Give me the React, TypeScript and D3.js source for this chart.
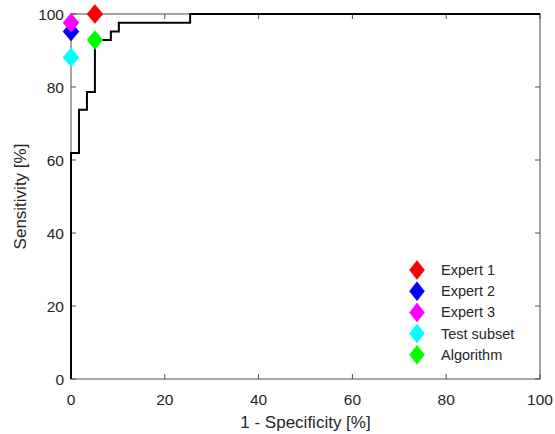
import React from "react";
import * as d3 from "d3";

// ROC curve vertices (step after)
const rocFpr = [0, 0, 1.7, 3.4, 5.1, 8.5, 10.2, 25.4, 100];
const rocTpr = [0, 61.9, 73.8, 78.6, 92.9, 95.2, 97.6, 100, 100];

// Operating points
const pointNames = ["Expert 1", "Expert 2", "Expert 3", "Test subset", "Algorithm"];
const pointFpr = [5.1, 0, 0, 0, 5.1];
const pointTpr = [100, 95.2, 97.6, 88.1, 92.9];
const pointColors = ["#ff0000", "#0000ff", "#ff00ff", "#00ffff", "#00ff00"];

const xTicks = [0, 20, 40, 60, 80, 100];
const yTicks = [0, 20, 40, 60, 80, 100];

const W = 555;
const H = 434;
const L = 71, R = 540, T = 14, B = 379;
const FONT = "'Liberation Sans', Arial, Helvetica, sans-serif";
const TXT = "#262626";
const AX = "#4d4d4d";

function diamond(cx: number, cy: number, w: number, h: number) {
  return `M${cx},${cy - h / 2}L${cx + w / 2},${cy}L${cx},${cy + h / 2}L${cx - w / 2},${cy}Z`;
}

export default function App() {
  const x = d3.scaleLinear().domain([0, 100]).range([L, R]);
  const y = d3.scaleLinear().domain([0, 100]).range([B, T]);
  const pts: [number, number][] = rocFpr.map((f, i) => [f, rocTpr[i]]);
  const line = d3
    .line<[number, number]>()
    .x((d) => x(d[0]))
    .y((d) => y(d[1]))
    .curve(d3.curveStepAfter);
  const tl = 5;
  const legendX = 417;
  const legendY0 = 270;
  const legendDy = 21.2;

  return (
    <svg
      width={W}
      height={H}
      style={{ position: "absolute", left: 0, top: 0, background: "#fff" }}
      fontFamily={FONT}
    >
      <rect x={0} y={0} width={W} height={H} fill="#fff" />
      {/* ticks */}
      {xTicks.map((t) => (
        <g key={"xt" + t}>
          <line x1={x(t)} x2={x(t)} y1={B} y2={B - tl} stroke={AX} strokeWidth={1} />
          <line x1={x(t)} x2={x(t)} y1={T} y2={T + tl} stroke={AX} strokeWidth={1} />
          <text x={x(t)} y={405} textAnchor="middle" fontSize={15.5} fill={TXT}>
            {t}
          </text>
        </g>
      ))}
      {yTicks.map((t) => (
        <g key={"yt" + t}>
          <line x1={L} x2={L + tl} y1={y(t)} y2={y(t)} stroke={AX} strokeWidth={1} />
          <line x1={R} x2={R - tl} y1={y(t)} y2={y(t)} stroke={AX} strokeWidth={1} />
          <text x={64} y={y(t) + 5.5} textAnchor="end" fontSize={15.5} fill={TXT}>
            {t}
          </text>
        </g>
      ))}
      <rect x={L} y={T} width={R - L} height={B - T} fill="none" stroke={AX} strokeWidth={1} />
      {/* ROC curve */}
      <path d={line(pts) || ""} fill="none" stroke="#000" strokeWidth={2} />
      {/* operating points */}
      {pointNames.map((n, i) => (
        <path
          key={"p" + n}
          d={diamond(x(pointFpr[i]), y(pointTpr[i]), 16, 19)}
          fill={pointColors[i]}
          stroke={pointColors[i]}
          strokeWidth={0.5}
        />
      ))}
      {/* legend */}
      {pointNames.map((n, i) => (
        <g key={"l" + n}>
          <path
            d={diamond(legendX, legendY0 + i * legendDy, 15, 19)}
            fill={pointColors[i]}
            stroke={pointColors[i]}
            strokeWidth={0.5}
          />
          <text x={441} y={legendY0 + i * legendDy + 5} fontSize={14.5} fill={TXT}>
            {n}
          </text>
        </g>
      ))}
      {/* axis labels */}
      <text x={(L + R) / 2} y={428} textAnchor="middle" fontSize={17} fill={TXT}>
        1 - Specificity [%]
      </text>
      <text
        transform={`translate(25.5,${(T + B) / 2}) rotate(-90)`}
        textAnchor="middle"
        fontSize={17}
        fill={TXT}
      >
        Sensitivity [%]
      </text>
    </svg>
  );
}
